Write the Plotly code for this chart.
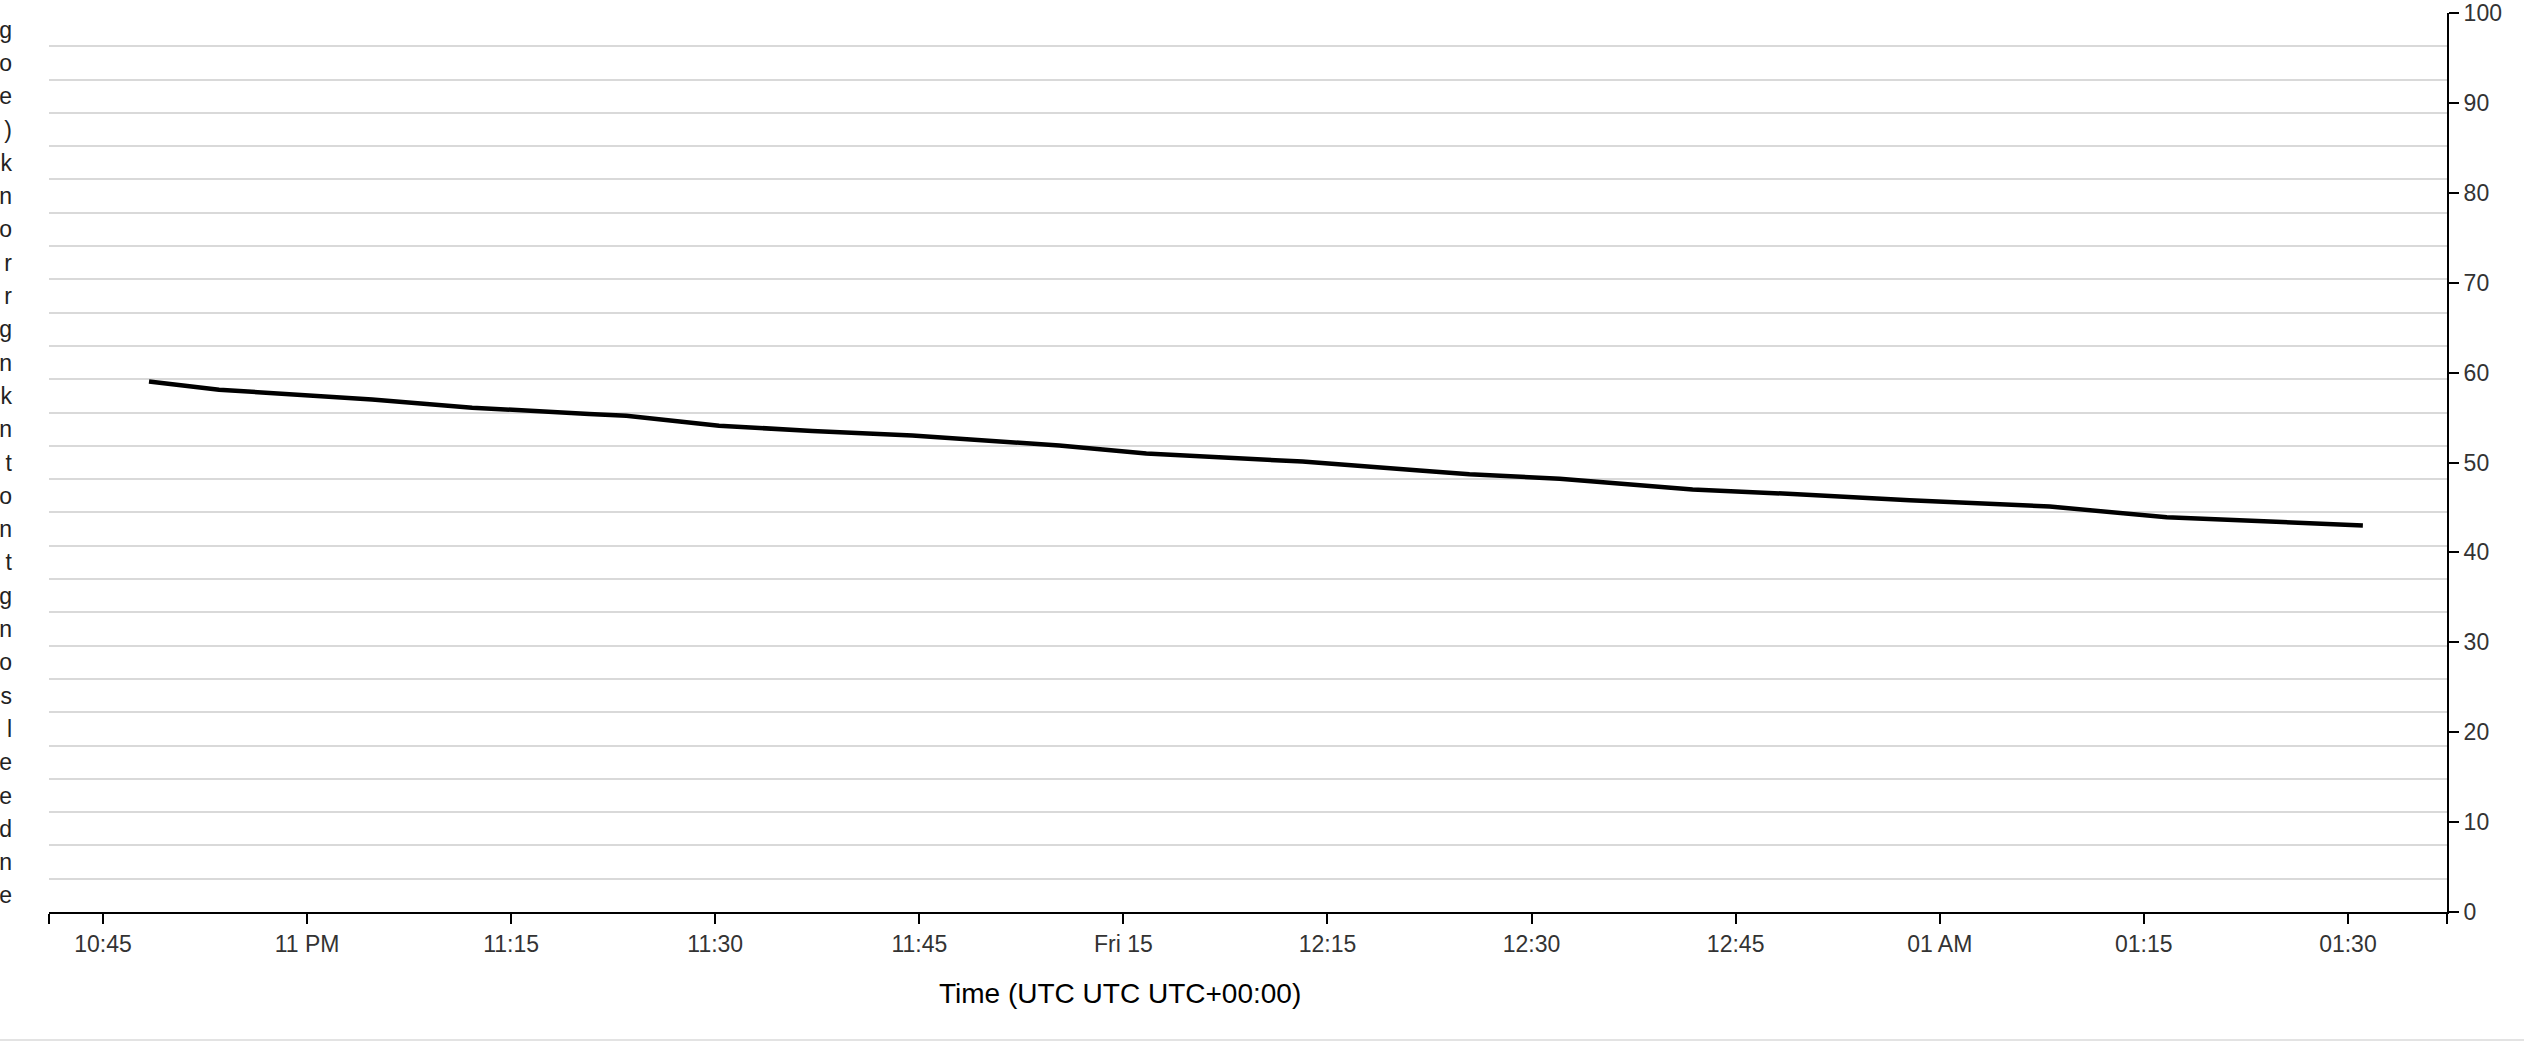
import plotly.graph_objects as go

# ---- data ----
times = [
    "2024-03-14 22:48:23", "2024-03-14 22:53:32", "2024-03-14 23:04:47",
    "2024-03-14 23:12:08", "2024-03-14 23:20:44", "2024-03-14 23:23:28",
    "2024-03-14 23:30:17", "2024-03-14 23:37:08", "2024-03-14 23:44:29",
    "2024-03-14 23:53:05", "2024-03-14 23:55:17", "2024-03-15 00:01:41",
    "2024-03-15 00:13:10", "2024-03-15 00:21:46", "2024-03-15 00:25:26",
    "2024-03-15 00:32:04", "2024-03-15 00:41:50", "2024-03-15 00:49:11",
    "2024-03-15 00:57:47", "2024-03-15 01:08:05", "2024-03-15 01:16:41",
    "2024-03-15 01:31:06",
]
values = [
    59.0, 58.1, 57.0, 56.1, 55.4, 55.2, 54.1, 53.5, 53.0, 52.1, 51.9, 51.0,
    50.1, 49.1, 48.7, 48.2, 47.0, 46.5, 45.8, 45.1, 43.9, 43.0,
]

category_labels = [
    "g", "o", "e", ")", "k", "n", "o", "r", "r", "g", "n", "k", "n", "t",
    "o", "n", "t", "g", "n", "o", "s", "l", "e", "e", "d", "n", "e",
]

x_tick_vals = [
    "2024-03-14 22:45", "2024-03-14 23:00", "2024-03-14 23:15", "2024-03-14 23:30",
    "2024-03-14 23:45", "2024-03-15 00:00", "2024-03-15 00:15", "2024-03-15 00:30",
    "2024-03-15 00:45", "2024-03-15 01:00", "2024-03-15 01:15", "2024-03-15 01:30",
]
x_tick_text = [
    "10:45", "11 PM", "11:15", "11:30", "11:45", "Fri 15",
    "12:15", "12:30", "12:45", "01 AM", "01:15", "01:30",
]
x_range = ["2024-03-14 22:41:02", "2024-03-15 01:37:17"]

y_ticks = [0, 10, 20, 30, 40, 50, 60, 70, 80, 90, 100]

x_title = "Time (UTC UTC UTC+00:00)"

# ---- figure ----
FONT = "Helvetica, Arial, Liberation Sans, sans-serif"
W, H = 2524, 1044
ML, MR, MT, MB = 49, 77, 13, 132
PW = W - ML - MR
PH = H - MT - MB

n = len(category_labels)

fig = go.Figure()
fig.add_trace(go.Scatter(
    x=times, y=values, mode="lines",
    line=dict(color="black", width=4.5),
    showlegend=False, hoverinfo="x+y",
))
# category axis holder (no visible marks)
fig.add_trace(go.Scatter(
    x=[x_range[0]], y=[0.5], yaxis="y2", mode="markers",
    marker=dict(opacity=0), showlegend=False, hoverinfo="skip",
))

fig.update_layout(
    width=W, height=H,
    margin=dict(l=ML, r=MR, t=MT, b=MB, pad=0, autoexpand=False),
    paper_bgcolor="white", plot_bgcolor="white",
    font=dict(family=FONT, size=23, color="#333333"),
    xaxis=dict(
        type="date", range=x_range, automargin=False,
        tickmode="array", tickvals=x_tick_vals, ticktext=x_tick_text,
        ticks="outside", ticklen=10, tickwidth=2, tickcolor="black",
        showline=True, linecolor="black", linewidth=2,
        showgrid=False, zeroline=False,
        tickfont=dict(size=23, color="#333333"),
        minor=dict(tickmode="array", tickvals=x_range, ticks="outside",
                   ticklen=10, tickwidth=2, tickcolor="black", showgrid=False),
    ),
    yaxis=dict(
        side="right", range=[0, 100], anchor="x", automargin=False,
        tickmode="array", tickvals=y_ticks,
        ticks="outside", ticklen=10, tickwidth=2, tickcolor="black",
        showline=True, linecolor="black", linewidth=2,
        showgrid=False, zeroline=False,
        tickfont=dict(size=23, color="#333333"),
    ),
    yaxis2=dict(
        overlaying="y", side="left", anchor="x", automargin=False,
        range=[n, 0],
        tickmode="array",
        tickvals=[i + 0.5 for i in range(n)],
        ticktext=category_labels,
        ticks="", showline=False, showgrid=False, zeroline=False,
        ticklabelstandoff=36,
        tickfont=dict(size=23, color="#222222"),
        minor=dict(tickmode="array", tickvals=list(range(1, n)),
                   showgrid=True, gridcolor="#d9d9d9", gridwidth=1.5, ticks=""),
    ),
    annotations=[dict(
        text=x_title, xref="paper", yref="paper",
        x=(1119.5 - ML) / PW, y=-(993 - (H - MB)) / PH,
        xanchor="center", yanchor="middle", showarrow=False,
        font=dict(family=FONT, size=28, color="black"),
    )],
    shapes=[dict(
        type="line", xref="paper", yref="paper",
        x0=-ML / PW, x1=(W - ML) / PW,
        y0=-(1040 - (H - MB)) / PH, y1=-(1040 - (H - MB)) / PH,
        line=dict(color="#e3e3e3", width=2),
    )],
)

fig.write_html(
    "out.html",
    config={"displayModeBar": False},
    post_script="document.body.style.margin='0';document.body.style.overflow='hidden';",
)
